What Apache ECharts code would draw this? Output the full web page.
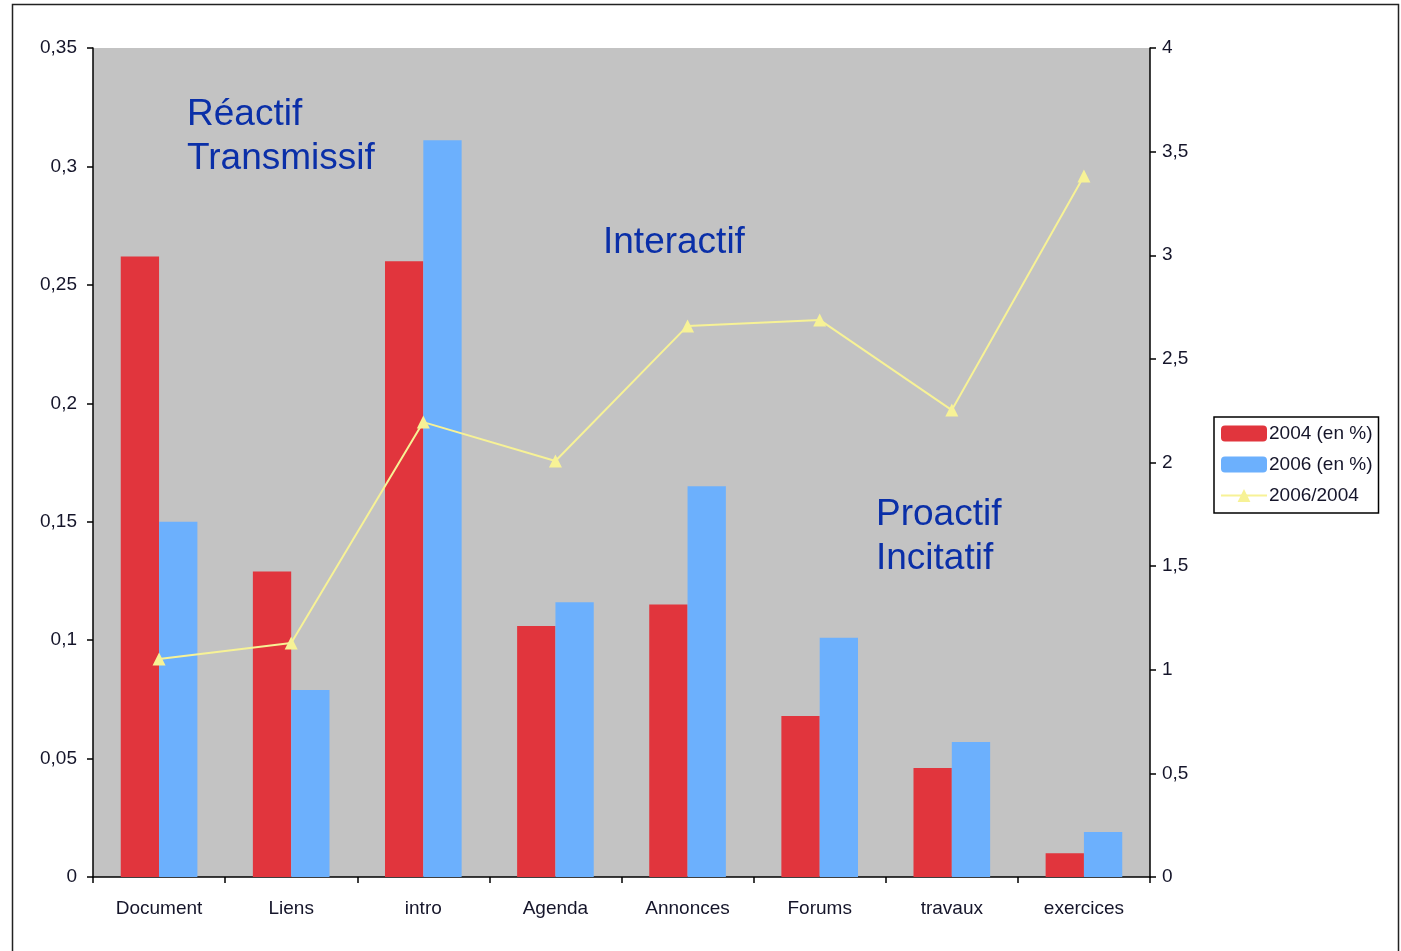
<!DOCTYPE html>
<html>
<head>
<meta charset="utf-8">
<script src="https://cdn.jsdelivr.net/npm/echarts@6/dist/echarts.min.js"></script>
<style>
  html, body { margin: 0; padding: 0; background: #fff; }
  #chart { width: 1401px; height: 951px; }
</style>
</head>
<body>
<div id="chart"></div>
<script>
const categories = ["Document", "Liens", "intro", "Agenda", "Annonces", "Forums", "travaux", "exercices"];
const share2004 = [0.262, 0.129, 0.26, 0.106, 0.115, 0.068, 0.046, 0.01];
const share2006 = [0.15, 0.079, 0.311, 0.116, 0.165, 0.101, 0.057, 0.019];
const ratio = [1.052, 1.129, 2.195, 2.007, 2.659, 2.688, 2.253, 3.382];
const seriesNames = ["2004 (en %)", "2006 (en %)", "2006/2004"];

const comma = (v) => String(v).replace(".", ",");
const labelFont = { fontFamily: "Liberation Sans, Arial, sans-serif", fontSize: 19, color: "#15152a" };
const noteStyle = { fontFamily: "Liberation Sans, Arial, sans-serif", fontSize: 37, fill: "#0a2fa8", lineHeight: 44 };

const chart = echarts.init(document.getElementById("chart"), null, { renderer: "canvas" });

chart.setOption({
  animation: false,
  grid: {
    left: 93, right: 251, top: 48, bottom: 74,
    show: true, backgroundColor: "#c3c3c3", borderWidth: 0
  },
  legend: {
    orient: "vertical",
    left: 1214, top: 417,
    padding: [7, 6, 8, 6],
    itemWidth: 46, itemHeight: 16, itemGap: 12,
    borderColor: "#000", borderWidth: 1.5,
    textStyle: { fontFamily: "Liberation Sans, Arial, sans-serif", fontSize: 19, color: "#15152a", padding: [0, 0, 0, -3] },
    data: seriesNames
  },
  xAxis: {
    type: "category",
    data: categories,
    axisLine: { lineStyle: { color: "#000", width: 1.5 } },
    axisTick: { show: true, length: 6, lineStyle: { color: "#000", width: 1.5 } },
    axisLabel: Object.assign({ margin: 22 }, labelFont),
    splitLine: { show: false }
  },
  yAxis: [
    {
      type: "value", min: 0, max: 0.35, interval: 0.05,
      axisLine: { show: true, lineStyle: { color: "#000", width: 1.5 } },
      axisTick: { show: true, length: 6, lineStyle: { color: "#000", width: 1.5 } },
      axisLabel: Object.assign({ margin: 16, formatter: (v) => comma(+v.toFixed(2)) }, labelFont),
      splitLine: { show: false }
    },
    {
      type: "value", min: 0, max: 4, interval: 0.5, position: "right",
      axisLine: { show: true, lineStyle: { color: "#000", width: 1.5 } },
      axisTick: { show: true, length: 6, lineStyle: { color: "#000", width: 1.5 } },
      axisLabel: Object.assign({ margin: 12, formatter: (v) => comma(v) }, labelFont),
      splitLine: { show: false }
    }
  ],
  series: [
    {
      name: seriesNames[0], type: "bar", data: share2004,
      barGap: "0%", barCategoryGap: "42%",
      itemStyle: { color: "#e1353d" }
    },
    {
      name: seriesNames[1], type: "bar", data: share2006,
      barGap: "0%", barCategoryGap: "42%",
      itemStyle: { color: "#6cb0fd" }
    },
    {
      name: seriesNames[2], type: "line", yAxisIndex: 1, data: ratio,
      symbol: "triangle", symbolSize: 13,
      lineStyle: { color: "#f7f296", width: 2 },
      itemStyle: { color: "#f7f296" }
    }
  ],
  graphic: [
    { type: "rect", left: 10, top: 2, z: -1, shape: { width: 1386, height: 960 },
      style: { fill: "none", stroke: "#222", lineWidth: 1.5 } },
    { type: "text", left: 187, top: 93, style: Object.assign({ text: "Réactif\nTransmissif" }, noteStyle) },
    { type: "text", left: 603, top: 221, style: Object.assign({ text: "Interactif" }, noteStyle) },
    { type: "text", left: 876, top: 493, style: Object.assign({ text: "Proactif\nIncitatif" }, noteStyle) }
  ]
});
</script>
</body>
</html>
